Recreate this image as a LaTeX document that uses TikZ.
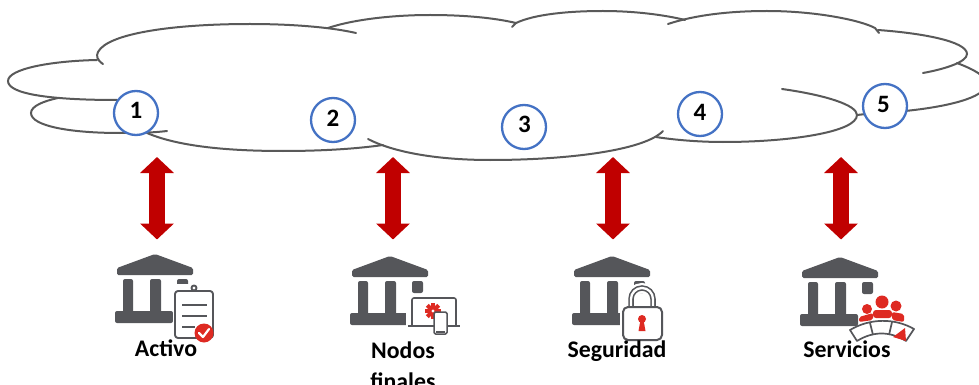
\documentclass[tikz,border=0pt]{standalone}
\usepackage{fontspec}
\setmainfont{Carlito}
\usetikzlibrary{arrows.meta}
\definecolor{cloudgray}{HTML}{595959}
\definecolor{icongray}{HTML}{55565A}
\definecolor{arrowred}{HTML}{C00000}
\definecolor{iconred}{HTML}{DE2A22}
\definecolor{ringblue}{HTML}{4472C4}
\tikzset{
  cloudline/.style={draw=cloudgray,line width=2pt,line cap=round},
  ring/.style={circle,draw=ringblue,line width=2.3pt,fill=white,minimum size=44pt,inner sep=0pt,font=\bfseries\fontsize{25}{25}\selectfont},
  link/.style={draw=arrowred,line width=16pt,{Triangle[length=16pt,width=33pt]}-{Triangle[length=16pt,width=33pt]}},
  caption/.style={font=\bfseries\fontsize{23.8}{31}\selectfont,align=center,inner sep=0pt},
  iconline/.style={draw=icongray,line width=1.9pt,fill=white,line join=round},
  bank/.pic={
    \fill[icongray,rounded corners=1.5pt] (-38,21) -- (-38,14) -- (0,0) -- (38,14) -- (38,21) -- cycle;
    \fill[icongray,rounded corners=2pt] (-32,25) rectangle (-22,60);
    \fill[icongray,rounded corners=2pt] (-5,25) rectangle (6,60);
    \fill[icongray,rounded corners=2pt] (22,25) rectangle (33,37);
    \fill[icongray,rounded corners=2pt] (-40,57) rectangle (18,69);
  }
}
\begin{document}
\begin{tikzpicture}[x=1pt,y=-1pt]
\useasboundingbox (0,0) rectangle (979,385);
% cloud
\draw[cloudline] (103,64) .. controls (97,60) and (96,56) .. (98,52) .. controls (108,33) and (175,24) .. (250,24) .. controls (290,24) and (330,27) .. (356,33);
\draw[cloudline] (328,28) .. controls (355,19) and (395,15) .. (430,15) .. controls (465,15) and (495,18) .. (516,23) -- (512,27);
\draw[cloudline] (516,23) .. controls (535,14) and (570,11) .. (603,11) .. controls (635,11) and (665,15) .. (685,20);
\draw[cloudline] (668,24) .. controls (695,15) and (730,11) .. (767,11) .. controls (815,11) and (860,20) .. (875,28) -- (879,33);
\draw[cloudline] (878,30) .. controls (920,33) and (967,41) .. (967,54) .. controls (967,62) and (945,69) .. (923,73);
\draw[cloudline] (957,63) .. controls (975,70) and (986,76) .. (986,84) .. controls (986,98) and (945,107) .. (905,111);
\draw[cloudline] (782,89) .. controls (825,95) and (857,105) .. (857,115) .. controls (857,132) and (790,142) .. (723,142) .. controls (700,142) and (675,140) .. (656,137);
\draw[cloudline] (857,115) -- (866,114);
\draw[cloudline] (663,131) .. controls (645,150) and (570,160) .. (490,160) .. controls (440,160) and (395,153) .. (368,139);
\draw[cloudline] (383,145) .. controls (355,149) and (320,151) .. (283,151) .. controls (220,151) and (175,145) .. (147,133);
\draw[cloudline] (167,131) .. controls (150,133) and (135,133) .. (120,133) .. controls (70,133) and (31,126) .. (31,113) .. controls (31,106) and (44,101) .. (58,98);
\draw[cloudline] (117,100) .. controls (50,100) and (8,94) .. (8,81) .. controls (8,69) and (50,61) .. (97,60);
% numbered rings
\node[ring] (c1) at (136,113) {\raisebox{5pt}{1}};
\node[ring] (c2) at (333,120) {\raisebox{4pt}{2}};
\node[ring] (c3) at (524,127) {\hspace{1pt}\raisebox{5pt}{3}};
\node[ring] (c4) at (700,114) {\raisebox{3pt}{4}};
\node[ring] (c5) at (885,106) {\hspace{-3pt}\raisebox{4pt}{5}};
% double arrows
\coordinate (t1) at (157,157); \coordinate (b1) at (157,239.5);
\coordinate (t2) at (393,157); \coordinate (b2) at (393,239.5);
\coordinate (t3) at (613,157); \coordinate (b3) at (613,239.5);
\coordinate (t4) at (841,157); \coordinate (b4) at (841,239.5);
\draw[link] (t1) -- (b1);
\draw[link] (t2) -- (b2);
\draw[link] (t3) -- (b3);
\draw[link] (t4) -- (b4);
% banks
\pic at (155,254) {bank};
\pic at (390,256) {bank};
\pic at (612,256) {bank};
\pic at (840,257) {bank};
% clipboard
\fill[white] (173,284) rectangle (216,341);
\draw[iconline,rounded corners=3pt] (175,291) rectangle (213,338);
\draw[iconline] (194,288) circle (2.5pt);
\draw[icongray,line width=1.8pt] (182,305) -- (207,305) (182,316) -- (207,316) (182,327) -- (195,327);
\fill[iconred] (204,333) circle (9.5pt);
\draw[white,line width=2.2pt,line cap=round,line join=round] (199,333) -- (203,337) -- (209,329);
% laptop and phone
\fill[white] (406,296) rectangle (462,337);
\draw[icongray,line width=1.6pt,rounded corners=2pt,fill=white] (412,325) -- (412,298) -- (456,298) -- (456,325);
\draw[icongray,line width=2.2pt] (408,326) -- (460,326);
\fill[iconred] (433,311) circle (5.5pt);
\foreach \a in {0,45,...,315}{\fill[iconred,shift={(433,311)},rotate=\a] (-2,-8) rectangle (2,-4);}
\fill[white] (433,311) circle (1.6pt);
\draw[iconline,line width=1.5pt,rounded corners=1.5pt] (434,312) rectangle (447,334);
\fill[icongray] (436,331) rectangle (445,333);
% padlock
\fill[white,rounded corners=6pt] (620,304) rectangle (665,343);
\draw[white,line width=10pt] (631,309) -- (631,299) arc[start angle=180,end angle=360,x radius=11,y radius=11] -- (653,309);
\draw[icongray,line width=5.5pt] (631,309) -- (631,299) arc[start angle=180,end angle=360,x radius=11,y radius=11] -- (653,309);
\draw[white,line width=2.3pt] (631,309) -- (631,299) arc[start angle=180,end angle=360,x radius=11,y radius=11] -- (653,309);
\draw[iconline,line width=2pt,rounded corners=5pt] (623,307) rectangle (662,340);
\fill[iconred] (642,319) circle (4pt);
\fill[iconred] (640.5,320) -- (643.5,320) -- (645.5,331) -- (638.5,331) -- cycle;
% audience
\fill[iconred] (867,309) circle (5pt) (882,302) circle (6.5pt) (896,306) circle (5.5pt);
\fill[iconred,rounded corners=2pt] (859,322) -- (859,317) -- (873,313) -- (873,320) -- cycle;
\fill[iconred,rounded corners=3pt] (873,318) -- (873,310) -- (892,310) -- (892,318) -- cycle;
\fill[iconred,rounded corners=2pt] (892,320) -- (892,312) -- (904,314) -- (904,322) -- cycle;
\draw[iconline,line width=1.7pt] (850,330) .. controls (870,318) and (895,318) .. (914,329) -- (906,341) .. controls (890,331) and (873,331) .. (857,341) -- cycle;
\draw[icongray,line width=1.7pt] (870,323) -- (873,335) (892,322) -- (889,335);
\fill[iconred] (893,337) -- (905,328) -- (906,341) -- cycle;
% captions
\node[caption,anchor=base] (l1) at (166,356.5) {Activo};
\node[caption,anchor=north] (l2) at (403,342) {Nodos\\finales};
\node[caption,anchor=base] (l3) at (617,357) {Seguridad};
\node[caption,anchor=base] (l4) at (847,357) {Servicios};
\end{tikzpicture}
\end{document}
